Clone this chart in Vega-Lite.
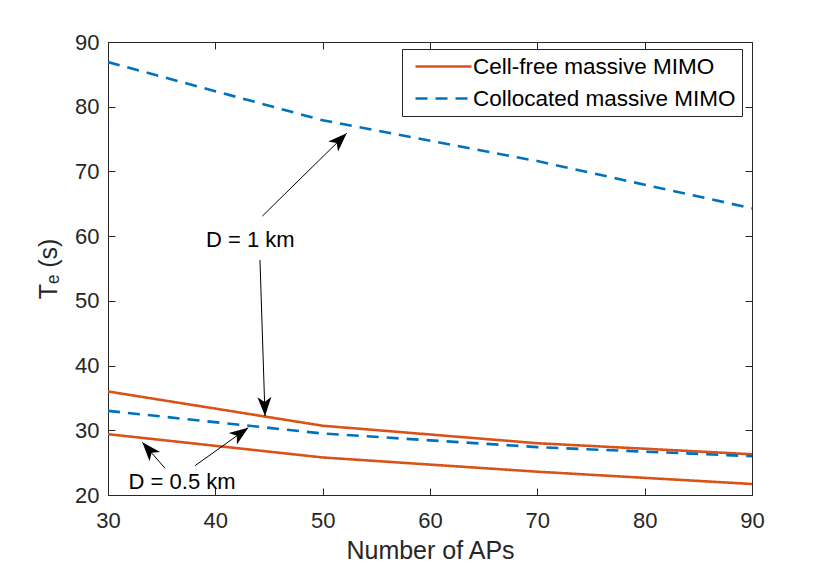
{
  "$schema": "https://vega.github.io/schema/vega-lite/v6.json",
  "width": 644,
  "height": 453,
  "autosize": {"type": "none"},
  "padding": {"left": 108, "top": 42, "right": 78, "bottom": 72},
  "background": "white",
  "config": {
    "font": "Liberation Sans",
    "view": {"stroke": "#262626", "strokeWidth": 1}
  },
  "resolve": {"axis": {"x": "independent", "y": "independent"}},
  "datasets": {
    "curves": [
      {"series": "Cell-free massive MIMO", "D": "1 km", "aps": 30, "te": 36.0},
      {"series": "Cell-free massive MIMO", "D": "1 km", "aps": 50, "te": 30.7},
      {"series": "Cell-free massive MIMO", "D": "1 km", "aps": 70, "te": 28.0},
      {"series": "Cell-free massive MIMO", "D": "1 km", "aps": 90, "te": 26.3},
      {"series": "Cell-free massive MIMO", "D": "0.5 km", "aps": 30, "te": 29.4},
      {"series": "Cell-free massive MIMO", "D": "0.5 km", "aps": 50, "te": 25.8},
      {"series": "Cell-free massive MIMO", "D": "0.5 km", "aps": 70, "te": 23.6},
      {"series": "Cell-free massive MIMO", "D": "0.5 km", "aps": 90, "te": 21.7},
      {"series": "Collocated massive MIMO", "D": "1 km", "aps": 30, "te": 86.9},
      {"series": "Collocated massive MIMO", "D": "1 km", "aps": 50, "te": 77.9},
      {"series": "Collocated massive MIMO", "D": "1 km", "aps": 70, "te": 71.6},
      {"series": "Collocated massive MIMO", "D": "1 km", "aps": 90, "te": 64.3},
      {"series": "Collocated massive MIMO", "D": "0.5 km", "aps": 30, "te": 33.0},
      {"series": "Collocated massive MIMO", "D": "0.5 km", "aps": 50, "te": 29.5},
      {"series": "Collocated massive MIMO", "D": "0.5 km", "aps": 70, "te": 27.4},
      {"series": "Collocated massive MIMO", "D": "0.5 km", "aps": 90, "te": 26.0}
    ],
    "notes": [
      {"label": "D = 1 km", "aps": 43.26, "te": 59.36},
      {"label": "D = 0.5 km", "aps": 36.9, "te": 22.0}
    ],
    "arrows": [
      {"id": 1, "aps0": 44.38, "te0": 63.1, "aps1": 52.24, "te1": 75.9},
      {"id": 2, "aps0": 44.16, "te0": 56.3, "aps1": 44.63, "te1": 32.2},
      {"id": 3, "aps0": 35.31, "te0": 24.13, "aps1": 33.2, "te1": 28.14},
      {"id": 4, "aps0": 38.11, "te0": 24.53, "aps1": 43.07, "te1": 30.4}
    ]
  },
  "layer": [
    {
      "data": {"name": "curves"},
      "mark": {"type": "line", "strokeWidth": 2.6, "clip": true},
      "encoding": {
        "x": {
          "field": "aps",
          "type": "quantitative",
          "scale": {"domain": [30, 90], "nice": false},
          "axis": {
            "orient": "bottom",
            "title": "Number of APs",
            "values": [30, 40, 50, 60, 70, 80, 90],
            "grid": false,
            "tickSize": -7,
            "labelPadding": 22,
            "labelFlush": false,
            "labelFontSize": 22,
            "labelColor": "#262626",
            "titleFontSize": 25,
            "titleFontWeight": "normal",
            "titleColor": "#262626",
            "titlePadding": 7,
            "domainColor": "#262626",
            "tickColor": "#262626"
          }
        },
        "y": {
          "field": "te",
          "type": "quantitative",
          "scale": {"domain": [20, 90], "nice": false},
          "axis": {
            "orient": "left",
            "title": "Tₑ (s)",
            "values": [20, 30, 40, 50, 60, 70, 80, 90],
            "grid": false,
            "tickSize": -7,
            "labelPadding": 16,
            "labelFlush": false,
            "labelFontSize": 22,
            "labelColor": "#262626",
            "titleFontSize": 25,
            "titleFontWeight": "normal",
            "titleColor": "#262626",
            "titlePadding": 13,
            "domainColor": "#262626",
            "tickColor": "#262626"
          }
        },
        "color": {
          "field": "series",
          "type": "nominal",
          "scale": {
            "domain": ["Cell-free massive MIMO", "Collocated massive MIMO"],
            "range": ["#D95319", "#0072BD"]
          },
          "legend": {
            "title": null,
            "orient": "none",
            "legendX": 294,
            "legendY": 7,
            "strokeColor": "#262626",
            "fillColor": "white",
            "padding": 6,
            "symbolType": "M-1,0H4.6",
            "symbolSize": 400,
            "symbolStrokeWidth": 2.6,
            "symbolOffset": 6,
            "labelOffset": 36,
            "labelFontSize": 22.5,
            "labelColor": "black",
            "labelLimit": 400,
            "labelExpr": "datum.label + '\u00a0\u00a0'",
            "rowPadding": 9
          }
        },
        "strokeDash": {
          "field": "series",
          "type": "nominal",
          "scale": {
            "domain": ["Cell-free massive MIMO", "Collocated massive MIMO"],
            "range": [[1, 0], [12, 8]]
          },
          "legend": {
            "title": null,
            "orient": "none",
            "legendX": 294,
            "legendY": 7,
            "strokeColor": "#262626",
            "fillColor": "white",
            "padding": 6,
            "symbolType": "M-1,0H4.6",
            "symbolSize": 400,
            "symbolStrokeWidth": 2.6,
            "symbolOffset": 6,
            "labelOffset": 36,
            "labelFontSize": 22.5,
            "labelColor": "black",
            "labelLimit": 400,
            "labelExpr": "datum.label + '\u00a0\u00a0'",
            "rowPadding": 9
          }
        },
        "detail": {"field": "D"}
      }
    },
    {
      "data": {"name": "notes"},
      "mark": {"type": "text", "fontSize": 22, "color": "black", "align": "center", "baseline": "middle"},
      "encoding": {
        "x": {
          "field": "aps",
          "type": "quantitative",
          "axis": {"orient": "top", "labels": false, "title": null, "values": [30, 40, 50, 60, 70, 80, 90], "grid": false, "domain": false, "tickSize": -7, "tickColor": "#262626"}
        },
        "y": {
          "field": "te",
          "type": "quantitative",
          "axis": {"orient": "right", "labels": false, "title": null, "values": [20, 30, 40, 50, 60, 70, 80, 90], "grid": false, "domain": false, "tickSize": -7, "tickColor": "#262626"}
        },
        "text": {"field": "label"}
      }
    },
    {
      "data": {"name": "arrows"},
      "mark": {"type": "rule", "color": "black", "strokeWidth": 1},
      "encoding": {
        "x": {"field": "aps0", "type": "quantitative", "axis": {"orient": "bottom", "labels": false, "ticks": false, "domain": false, "grid": false, "title": null}},
        "y": {"field": "te0", "type": "quantitative", "axis": {"orient": "left", "labels": false, "ticks": false, "domain": false, "grid": false, "title": null}},
        "x2": {"field": "aps1"},
        "y2": {"field": "te1"}
      }
    },
    {
      "data": {"name": "arrows"},
      "transform": [{"filter": "datum.id == 1"}],
      "mark": {"type": "point", "shape": "M0,0L0.7,1.9L0,1.4L-0.7,1.9Z", "size": 400, "filled": true, "color": "black", "opacity": 1, "strokeWidth": 0, "angle": 45.6},
      "encoding": {
        "x": {"field": "aps1", "type": "quantitative", "axis": {"orient": "bottom", "labels": false, "ticks": false, "domain": false, "grid": false, "title": null}},
        "y": {"field": "te1", "type": "quantitative", "axis": {"orient": "left", "labels": false, "ticks": false, "domain": false, "grid": false, "title": null}}
      }
    },
    {
      "data": {"name": "arrows"},
      "transform": [{"filter": "datum.id == 2"}],
      "mark": {"type": "point", "shape": "M0,0L0.7,1.9L0,1.4L-0.7,1.9Z", "size": 400, "filled": true, "color": "black", "opacity": 1, "strokeWidth": 0, "angle": 178.2},
      "encoding": {
        "x": {"field": "aps1", "type": "quantitative", "axis": {"orient": "bottom", "labels": false, "ticks": false, "domain": false, "grid": false, "title": null}},
        "y": {"field": "te1", "type": "quantitative", "axis": {"orient": "left", "labels": false, "ticks": false, "domain": false, "grid": false, "title": null}}
      }
    },
    {
      "data": {"name": "arrows"},
      "transform": [{"filter": "datum.id == 3"}],
      "mark": {"type": "point", "shape": "M0,0L0.7,1.9L0,1.4L-0.7,1.9Z", "size": 400, "filled": true, "color": "black", "opacity": 1, "strokeWidth": 0, "angle": -41.1},
      "encoding": {
        "x": {"field": "aps1", "type": "quantitative", "axis": {"orient": "bottom", "labels": false, "ticks": false, "domain": false, "grid": false, "title": null}},
        "y": {"field": "te1", "type": "quantitative", "axis": {"orient": "left", "labels": false, "ticks": false, "domain": false, "grid": false, "title": null}}
      }
    },
    {
      "data": {"name": "arrows"},
      "transform": [{"filter": "datum.id == 4"}],
      "mark": {"type": "point", "shape": "M0,0L0.7,1.9L0,1.4L-0.7,1.9Z", "size": 400, "filled": true, "color": "black", "opacity": 1, "strokeWidth": 0, "angle": 54.5},
      "encoding": {
        "x": {"field": "aps1", "type": "quantitative", "axis": {"orient": "bottom", "labels": false, "ticks": false, "domain": false, "grid": false, "title": null}},
        "y": {"field": "te1", "type": "quantitative", "axis": {"orient": "left", "labels": false, "ticks": false, "domain": false, "grid": false, "title": null}}
      }
    }
  ]
}
